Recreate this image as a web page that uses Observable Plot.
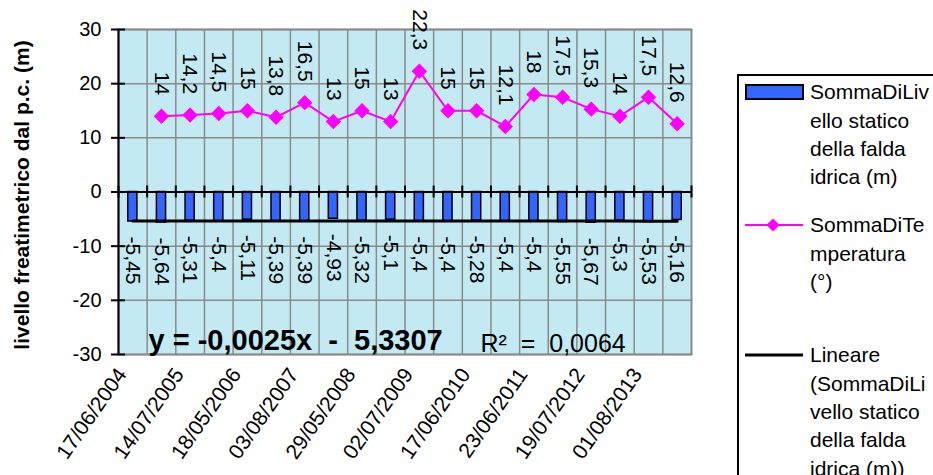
<!DOCTYPE html>
<html>
<head>
<meta charset="utf-8">
<script src="https://cdn.jsdelivr.net/npm/d3@7"></script>
<script src="https://cdn.jsdelivr.net/npm/@observablehq/plot@0.6"></script>
<style>
  body { margin: 0; background: white; }
  #wrap { position: relative; width: 933px; height: 475px; overflow: hidden; font-family: Arial, "Liberation Sans", sans-serif; }
  #legend { position: absolute; left: 0; top: 0; }
</style>
</head>
<body>
<div id="wrap"></div>
<script>
// ---- data ----
const levels = [-5.45, -5.64, -5.31, -5.4, -5.11, -5.39, -5.39, -4.93, -5.32, -5.1,
                -5.4, -5.4, -5.28, -5.4, -5.4, -5.55, -5.67, -5.3, -5.53, -5.16];
const temps = [null, 14, 14.2, 14.5, 15, 13.8, 16.5, 13, 15, 13,
               22.3, 15, 15, 12.1, 18, 17.5, 15.3, 14, 17.5, 12.6];
const dateLabels = ["17/06/2004", "14/07/2005", "18/05/2006", "03/08/2007", "29/05/2008",
                    "02/07/2009", "17/06/2010", "23/06/2011", "19/07/2012", "01/08/2013"];
const yTicks = [-30, -20, -10, 0, 10, 20, 30];
const trendSlope = -0.0025;
const trendIntercept = -5.3307;
const rSquared = 0.0064;
const legendLevel = ["SommaDiLiv", "ello statico", "della falda", "idrica (m)"];
const legendTemp = ["SommaDiTe", "mperatura", "(°)"];
const legendTrend = ["Lineare", "(SommaDiLi", "vello statico", "della falda", "idrica (m))"];

// ---- derived ----
const n = levels.length;
const fmt = v => String(v).replace(".", ",");
const sp = "\u00a0";
const rows = levels.map((v, i) => ({i, c: i + 0.5, level: v, temp: temps[i]}));
const tempRows = rows.filter(d => d.temp != null);
const trend = rows.map(d => ({c: d.c, y: trendSlope * (d.i + 1) + trendIntercept}));
const labelCenters = dateLabels.map((_, k) => 2 * k + 0.5);
const eqText = `y = ${fmt(trendSlope)}x${sp}${sp}-${sp}${sp}${fmt(Math.abs(trendIntercept))}`;
const r2Text = `R²${sp}${sp}=${sp}${sp}${fmt(rSquared)}`;

const grid = "#8a8a8a";
const plot = Plot.plot({
  width: 933, height: 475,
  marginLeft: 118, marginRight: 242, marginTop: 29, marginBottom: 121,
  x: {domain: [0, n], axis: null},
  y: {domain: [-30, 30], axis: null},
  style: {fontFamily: 'Arial, "Liberation Sans", sans-serif', background: "white", color: "black"},
  marks: [
    Plot.frame({fill: "#c3eaf2"}),
    Plot.ruleX(d3.range(1, n), {stroke: grid, strokeWidth: 1.5}),
    Plot.ruleY(yTicks, {stroke: grid, strokeWidth: 1.5}),
    Plot.frame({stroke: grid, strokeWidth: 2}),
    Plot.rect(rows, {x1: d => d.c - 0.16, x2: d => d.c + 0.16, y1: 0, y2: "level",
      fill: "#3366ff", stroke: "black", strokeWidth: 1.5}),
    Plot.line(trend, {x: "c", y: "y", stroke: "black", strokeWidth: 3}),
    Plot.ruleY([0], {stroke: "black", strokeWidth: 2}),
    Plot.ruleX(d3.range(0, n + 1), {y1: 0, y2: 0, insetTop: -6, insetBottom: -6, stroke: "black", strokeWidth: 2}),
    Plot.ruleX([0], {stroke: "black", strokeWidth: 2}),
    Plot.ruleY(yTicks, {x1: 0, x2: 0, insetLeft: -7, insetRight: -7, stroke: "black", strokeWidth: 2}),
    Plot.line(tempRows, {x: "c", y: "temp", stroke: "#ff00ff", strokeWidth: 2}),
    Plot.dot(tempRows, {x: "c", y: "temp", symbol: "diamond2", r: 6, fill: "#ff00ff", stroke: "#ff00ff"}),
    Plot.text(rows, {x: "c", y: "level", text: d => fmt(d.level), rotate: 90, textAnchor: "start",
      dy: 15, fontSize: 21, fill: "black"}),
    Plot.text(tempRows, {x: "c", y: "temp", text: d => fmt(d.temp), rotate: 90, textAnchor: "end",
      dy: -21, fontSize: 21, fill: "black"}),
    Plot.axisY(yTicks, {tickSize: 0, tickPadding: 17, fontSize: 20, label: null, tickFormat: d => String(d)}),
    Plot.axisX(labelCenters, {tickSize: 0, tickRotate: -55, tickPadding: 12, fontSize: 21, label: null,
      dx: -11, dy: 4, tickFormat: d => dateLabels[(d - 0.5) / 2]}),
    Plot.text([0], {frameAnchor: "left", text: () => "livello freatimetrico dal p.c. (m)", rotate: -90,
      dx: -96, dy: 3, textAnchor: "middle", fontWeight: "bold", fontSize: 21, fill: "black"}),
    Plot.text([0], {frameAnchor: "bottom-left", text: () => eqText, dx: 30, dy: -14, lineAnchor: "middle",
      textAnchor: "start", fontWeight: "bold", fontSize: 29, fill: "black"}),
    Plot.text([0], {frameAnchor: "bottom-left", text: () => r2Text, dx: 362, dy: -11, lineAnchor: "middle",
      textAnchor: "start", fontSize: 25, fill: "black"})
  ]
});
const wrap = document.getElementById("wrap");
wrap.appendChild(plot);

// ---- legend ----
const lg = d3.select(wrap).append("svg").attr("id", "legend")
  .attr("width", 933).attr("height", 475)
  .style("font-family", 'Arial, "Liberation Sans", sans-serif');
lg.append("rect").attr("x", 738).attr("y", 75).attr("width", 260).attr("height", 500)
  .attr("fill", "white").attr("stroke", "black").attr("stroke-width", 2);
lg.append("rect").attr("x", 746).attr("y", 85).attr("width", 57).attr("height", 14)
  .attr("fill", "#3366ff").attr("stroke", "black").attr("stroke-width", 2);
lg.append("line").attr("x1", 745).attr("x2", 803).attr("y1", 225).attr("y2", 225)
  .attr("stroke", "#ff00ff").attr("stroke-width", 2);
lg.append("path").attr("d", d3.symbol(d3.symbolDiamond2, 110)()).attr("transform", "translate(773,225)")
  .attr("fill", "#ff00ff");
lg.append("line").attr("x1", 745).attr("x2", 803).attr("y1", 355).attr("y2", 355)
  .attr("stroke", "black").attr("stroke-width", 3);
function block(lines, y0) {
  lines.forEach((t, k) => {
    lg.append("text").attr("x", 810).attr("y", y0 + k * 28.3).attr("dy", "0.35em")
      .attr("font-size", 21).attr("fill", "black").text(t);
  });
}
block(legendLevel, 92);
block(legendTemp, 225);
block(legendTrend, 355);
</script>
</body>
</html>
